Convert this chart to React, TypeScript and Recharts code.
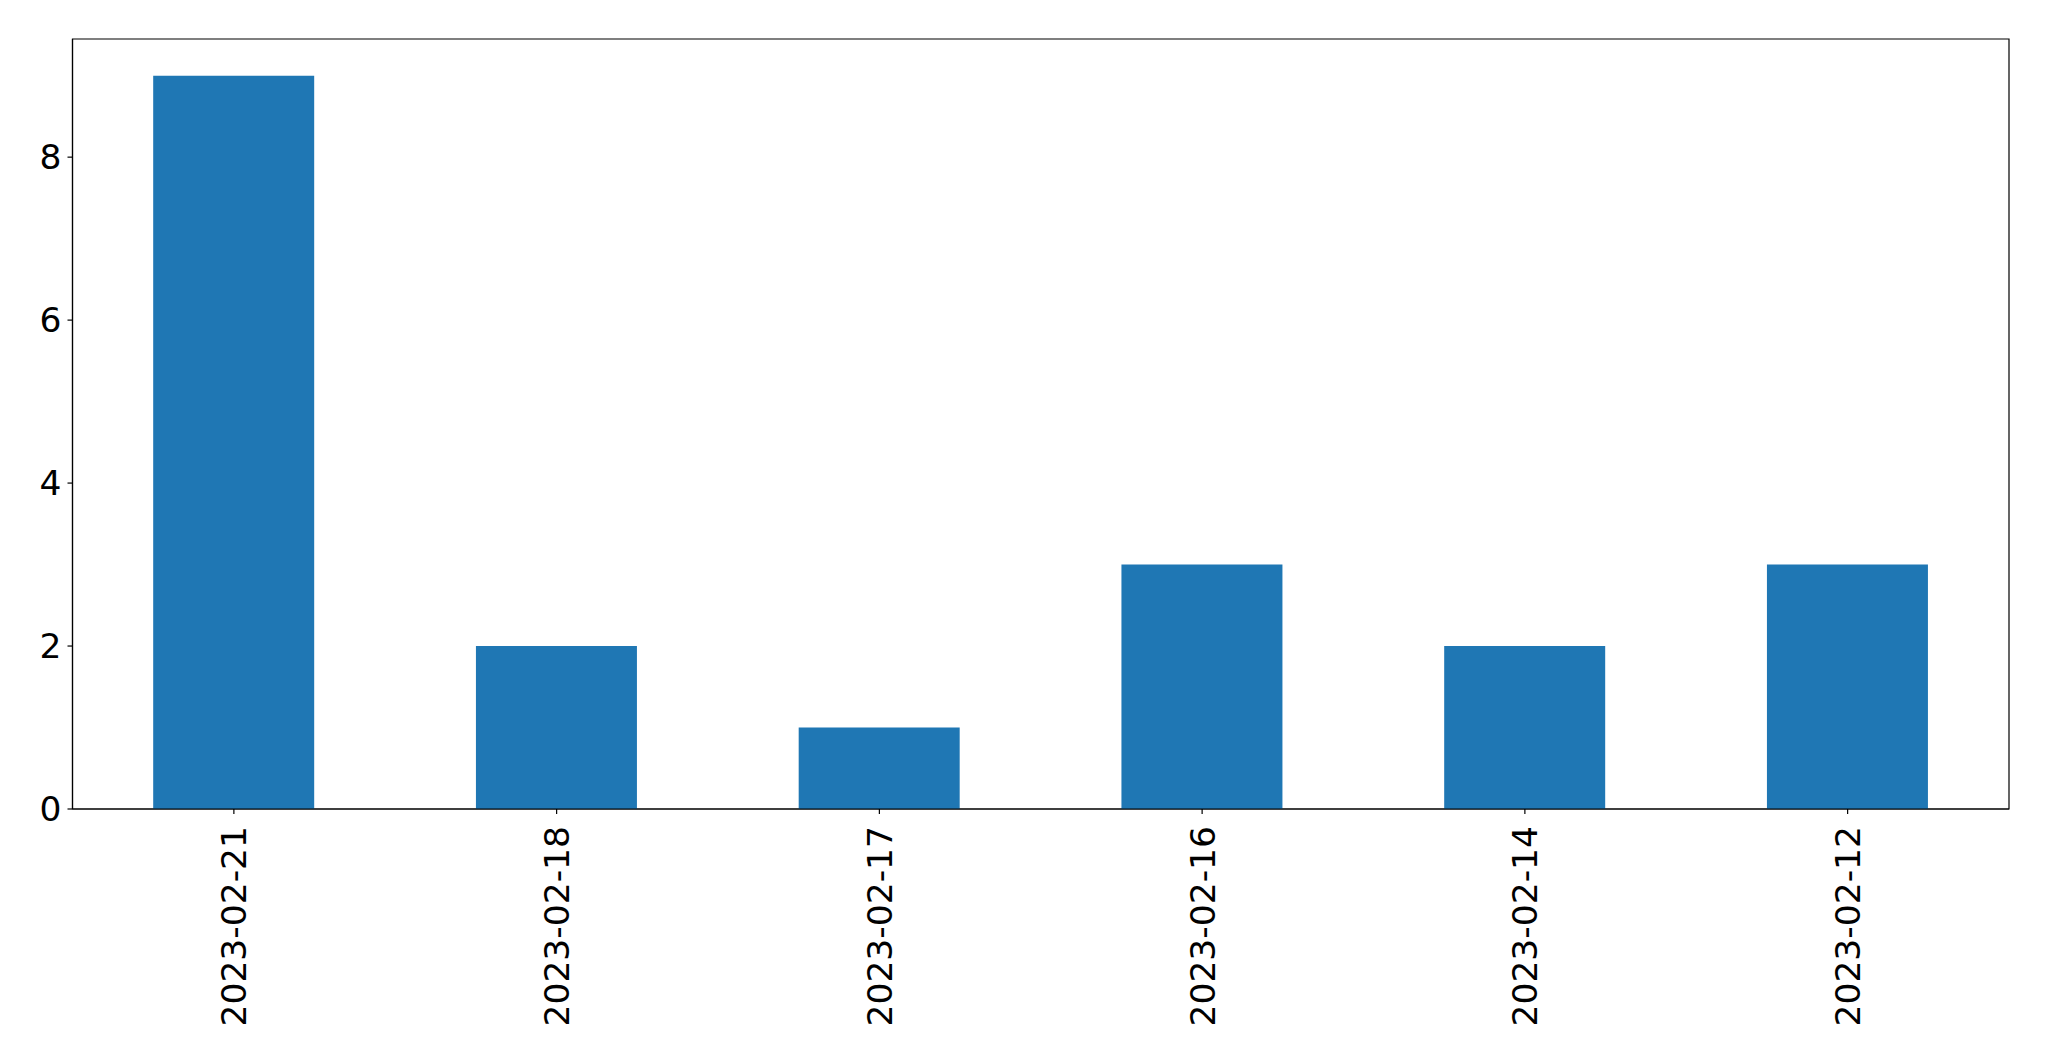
import React from 'react';
import { BarChart, Bar, XAxis, YAxis, ReferenceArea } from 'recharts';

const categories: string[] = ['2023-02-21', '2023-02-18', '2023-02-17', '2023-02-16', '2023-02-14', '2023-02-12'];
const counts: number[] = [9, 2, 1, 3, 2, 3];
const yTicks: number[] = [0, 2, 4, 6, 8];
const yMax = 9.45;

const data = categories.map((c, i) => ({ date: c, count: counts[i] }));

const FONT = 'DejaVu Sans';
const FS = 34.5;

const XTick = (props: any) => {
  const { x, y, payload } = props;
  return (
    <text
      x={x}
      y={y}
      transform={`rotate(-90, ${x}, ${y})`}
      textAnchor="end"
      dy="0.36em"
      fontFamily={FONT}
      fontSize={FS}
      fill="#000"
    >
      {payload.value}
    </text>
  );
};

export default function App() {
  return (
    <div style={{ position: 'absolute', left: 0, top: 0, background: '#fff' }}>
      <BarChart
        width={2049}
        height={1061}
        data={data}
        margin={{ top: 39, right: 40, bottom: 0, left: 0 }}
        barCategoryGap="25%"
      >
        <XAxis
          dataKey="date"
          xAxisId="main"
          height={252}
          interval={0}
          tick={<XTick />}
          tickSize={5}
          tickMargin={12}
          axisLine={{ stroke: '#000', strokeWidth: 1.2 }}
          tickLine={{ stroke: '#000', strokeWidth: 1.2 }}
        />
        <YAxis
          yAxisId="main"
          width={72.5}
          domain={[0, yMax]}
          ticks={yTicks}
          interval={0}
          tickSize={5}
          tickMargin={6}
          tick={{ fontFamily: FONT, fontSize: FS, fill: '#000' }}
          axisLine={{ stroke: '#000', strokeWidth: 1.2 }}
          tickLine={{ stroke: '#000', strokeWidth: 1.2 }}
        />
        <Bar dataKey="count" xAxisId="main" yAxisId="main" fill="#1f77b4" isAnimationActive={false} />
        <ReferenceArea
          xAxisId="main"
          yAxisId="main"
          x1={categories[0]}
          x2={categories[categories.length - 1]}
          y1={0}
          y2={yMax}
          fill="none"
          fillOpacity={0}
          stroke="#000"
          strokeWidth={1.2}
          ifOverflow="visible"
        />
      </BarChart>
    </div>
  );
}
